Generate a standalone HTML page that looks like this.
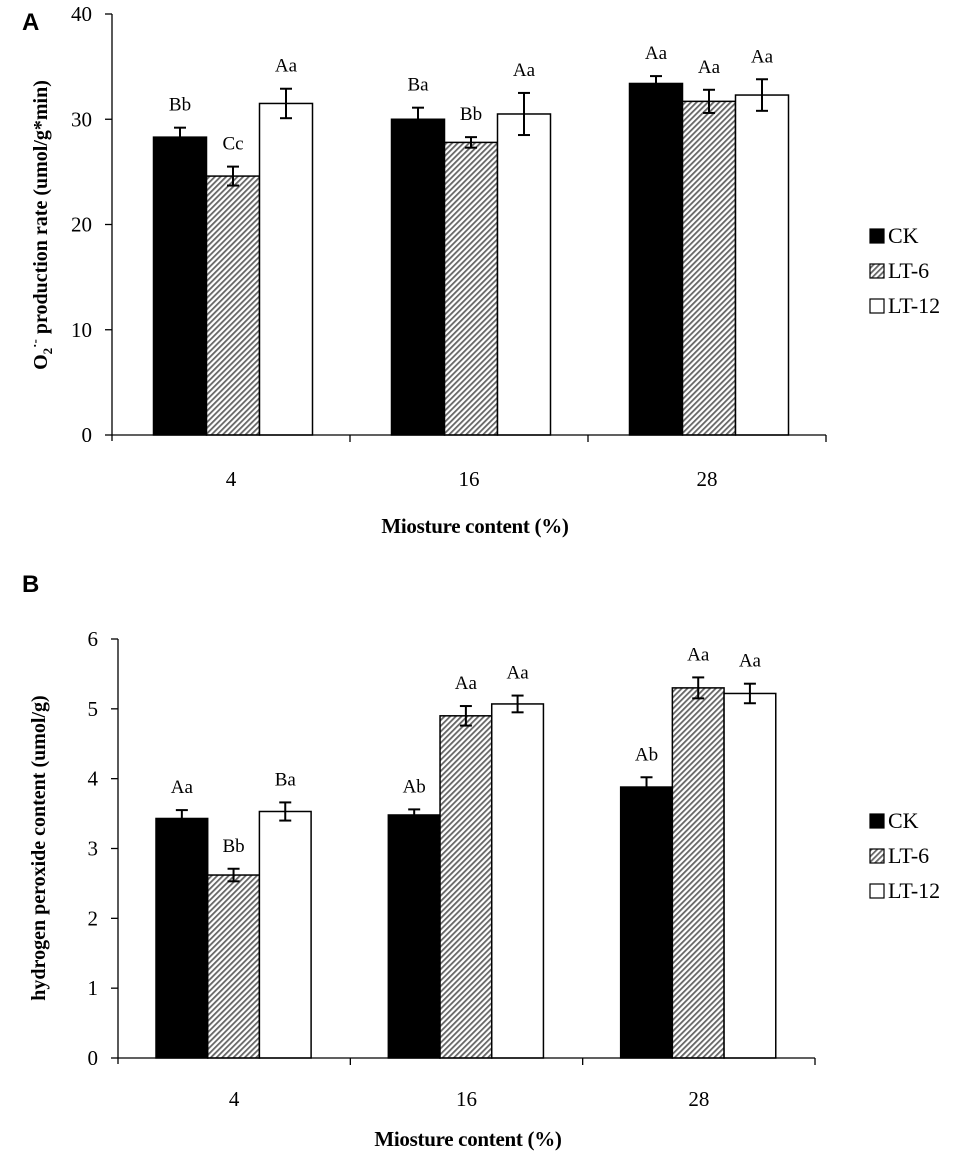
<!DOCTYPE html>
<html><head><meta charset="utf-8"><style>
html,body{margin:0;padding:0;background:#fff;}
svg{display:block;font-family:"Liberation Serif",serif;}
</style></head><body>
<svg id="chart" width="970" height="1155" viewBox="0 0 970 1155" xmlns="http://www.w3.org/2000/svg">
<defs>
<pattern id="hatch" patternUnits="userSpaceOnUse" width="4" height="4" patternTransform="rotate(45)">
<rect width="4" height="4" fill="#fff"/><rect width="1.8" height="4" fill="#666"/>
</pattern>
</defs>
</svg>
<script>
const categories = ["4","16","28"];
const seriesNames = ["CK","LT-6","LT-12"];
const aValues = [[28.3,30.0,33.4],[24.6,27.8,31.7],[31.5,30.5,32.3]];
const aErrors = [[0.9,1.1,0.7],[0.9,0.5,1.1],[1.4,2.0,1.5]];
const aLetters = [["Bb","Ba","Aa"],["Cc","Bb","Aa"],["Aa","Aa","Aa"]];
const aTicks = [0,10,20,30,40];
const bValues = [[3.43,3.48,3.88],[2.62,4.90,5.30],[3.53,5.07,5.22]];
const bErrors = [[0.12,0.08,0.14],[0.09,0.14,0.15],[0.13,0.12,0.14]];
const bLetters = [["Aa","Ab","Ab"],["Bb","Aa","Aa"],["Ba","Aa","Aa"]];
const bTicks = [0,1,2,3,4,5,6];

const svg = document.getElementById('chart');
const NS = "http://www.w3.org/2000/svg";
function mk(tag, attrs, parent){
  const e = document.createElementNS(NS, tag);
  for (const k in attrs) e.setAttribute(k, attrs[k]);
  (parent||svg).appendChild(e);
  return e;
}
const fills = ["#000","url(#hatch)","#fff"];

function panel(cfg){
  const g = mk('g', {});
  
  
  const yScale = v => cfg.y0 - (v - cfg.min) / (cfg.max - cfg.min) * (cfg.y0 - cfg.yTop);
  const gw = (cfg.xEnd - cfg.x0) / categories.length;
  const xGroup = i => cfg.x0 + i * gw;
  const ya = mk('line', {x1:cfg.x0, y1:cfg.yTop, x2:cfg.x0, y2:cfg.y0+6, stroke:'#000', 'stroke-width':1.3}, g);
  
  
  cfg.ticks.forEach(t => {
    const y = yScale(t);
    mk('line', {x1:cfg.x0-7, y1:y, x2:cfg.x0, y2:y, stroke:'#000', 'stroke-width':1.3}, g);
    const tx = mk('text', {x:cfg.x0-20, y:y+7, 'font-size':21, 'text-anchor':'end'}, g);
    tx.textContent = t;
    
    
  });
  categories.forEach((c, i) => {
    seriesNames.forEach((s, j) => {
      const v = cfg.values[j][i], e = cfg.errors[j][i];
      const x = xGroup(i) + cfg.off + j * cfg.bw;
      const y = yScale(v);
      const r = mk('rect', {x:x, y:y, width:cfg.bw, height:cfg.y0 - y, fill:fills[j], stroke:'#000', 'stroke-width':1.5}, g);
      
      
      const cx = x + cfg.bw / 2, yt = yScale(v + e), yb = yScale(v - e);
      mk('line', {x1:cx, y1:yt, x2:cx, y2:yb, stroke:'#000', 'stroke-width':2}, g);
      mk('line', {x1:cx-6, y1:yt, x2:cx+6, y2:yt, stroke:'#000', 'stroke-width':2}, g);
      mk('line', {x1:cx-6, y1:yb, x2:cx+6, y2:yb, stroke:'#000', 'stroke-width':2}, g);
      const lt = mk('text', {x:cx, y:yt-17, 'font-size':19, 'text-anchor':'middle'}, g);
      lt.textContent = cfg.letters[j][i];
      
      
    });
    const cl = mk('text', {x:xGroup(i) + gw/2, y:cfg.catY, 'font-size':21, 'text-anchor':'middle'}, g);
    cl.textContent = c;
    
    
  });
  const xa = mk('line', {x1:cfg.x0, y1:cfg.y0, x2:cfg.xEnd, y2:cfg.y0, stroke:'#000', 'stroke-width':1.3}, g);
  
  
  for (let i = 1; i <= categories.length; i++) {
    mk('line', {x1:xGroup(i), y1:cfg.y0, x2:xGroup(i), y2:cfg.y0+7, stroke:'#000', 'stroke-width':1.3}, g);
  }
  const xt = mk('text', {x:cfg.xtX, y:cfg.xtY, 'font-size':21, 'font-weight':'bold', 'text-anchor':'middle', 'letter-spacing':'-0.3'}, g);
  xt.textContent = 'Miosture content (%)';
  
  
  seriesNames.forEach((s, j) => {
    const ly = cfg.legY + j * 35;
    const lr = mk('rect', {x:870, y:ly-14, width:14, height:14, fill:fills[j], stroke:'#000', 'stroke-width':1.2}, g);
    
    
    const lt = mk('text', {x:888, y:ly, 'font-size':22}, g);
    lt.textContent = s;
    
    
  });
  const pl = mk('text', {x:22, y:cfg.letterY, 'font-size':24, 'font-weight':'bold', 'font-family':'Liberation Sans, sans-serif'}, g);
  pl.textContent = cfg.letter;
  
  
  return g;
}

panel({name:'panel-a', values:aValues, errors:aErrors, letters:aLetters, ticks:aTicks, min:0, max:40,
  x0:112, xEnd:826, y0:435, yTop:14, off:41.5, bw:53, catY:486, xtX:475, xtY:533, legY:243, letter:'A', letterY:30});
panel({name:'panel-b', values:bValues, errors:bErrors, letters:bLetters, ticks:bTicks, min:0, max:6,
  x0:118, xEnd:815, y0:1058, yTop:639, off:38, bw:51.7, catY:1106, xtX:468, xtY:1146, legY:828, letter:'B', letterY:592});

const ytA = mk('text', {transform:'translate(47,225) rotate(-90)', 'font-size':20, 'font-weight':'bold', 'text-anchor':'middle'});


ytA.innerHTML = 'O<tspan font-size="13" dy="5">2</tspan><tspan font-size="13" dy="-13">·-</tspan><tspan dy="8"> production rate (umol/g*min)</tspan>';
const ytB = mk('text', {transform:'translate(45,848) rotate(-90)', 'font-size':20, 'font-weight':'bold', 'text-anchor':'middle'});


ytB.textContent = 'hydrogen peroxide content (umol/g)';
</script>
</body></html>
